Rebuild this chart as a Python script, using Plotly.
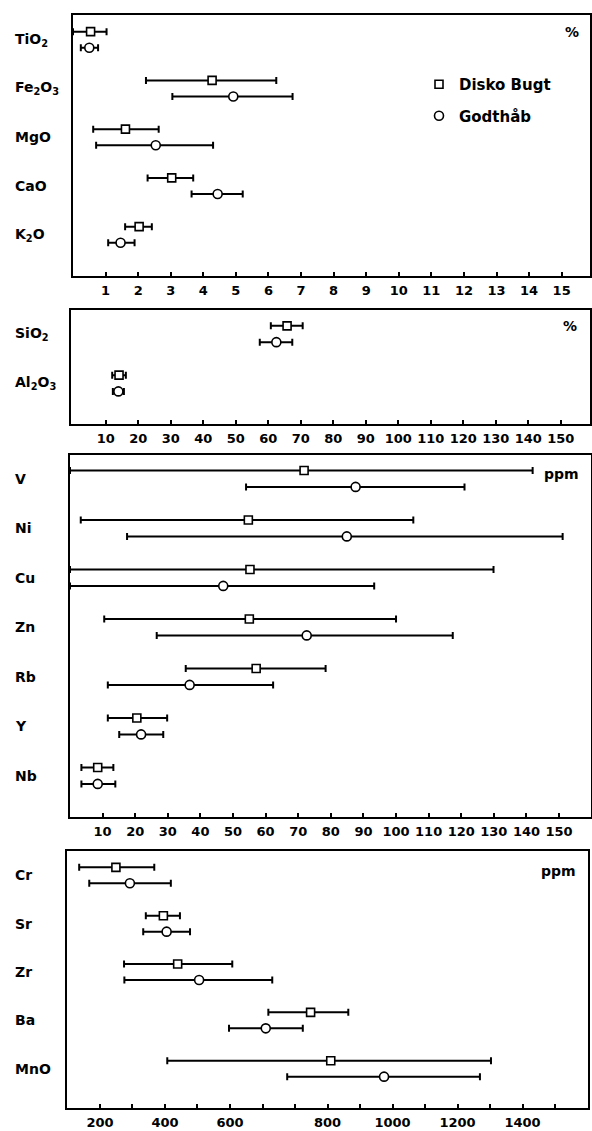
import plotly.graph_objects as go

# ---------------- data ----------------
# Panel 1 (%)
p1_labels = ["TiO<sub>2</sub>", "Fe<sub>2</sub>O<sub>3</sub>", "MgO", "CaO", "K<sub>2</sub>O"]
p1_disko_mean = [0.54, 4.27, 1.61, 3.03, 2.03]
p1_disko_low = [0.00, 2.24, 0.62, 2.29, 1.60]
p1_disko_high = [1.03, 6.24, 2.63, 3.69, 2.42]
p1_godt_mean = [0.50, 4.92, 2.54, 4.44, 1.46]
p1_godt_low = [0.24, 3.05, 0.71, 3.64, 1.08]
p1_godt_high = [0.77, 6.74, 4.30, 5.21, 1.89]

# Panel 2 (%)
p2_labels = ["SiO<sub>2</sub>", "Al<sub>2</sub>O<sub>3</sub>"]
p2_disko_mean = [65.8, 14.1]
p2_disko_low = [60.8, 12.0]
p2_disko_high = [70.6, 16.2]
p2_godt_mean = [62.5, 13.9]
p2_godt_low = [57.4, 12.2]
p2_godt_high = [67.4, 15.6]

# Panel 3 (ppm)
p3_labels = ["V", "Ni", "Cu", "Zn", "Rb", "Y", "Nb"]
p3_disko_mean = [71.8, 54.7, 55.2, 55.0, 57.1, 20.5, 8.5]
p3_disko_low = [0.0, 3.3, 0.0, 10.5, 35.5, 11.6, 3.5]
p3_disko_high = [141.9, 105.3, 129.9, 100.0, 78.4, 29.8, 13.3]
p3_godt_mean = [87.6, 84.9, 47.0, 72.6, 36.7, 21.8, 8.5]
p3_godt_low = [54.0, 17.5, 0.0, 26.6, 11.6, 15.1, 3.5]
p3_godt_high = [121.0, 151.1, 93.3, 117.4, 62.3, 28.6, 13.9]

# Panel 4 (ppm)
p4_labels = ["Cr", "Sr", "Zr", "Ba", "MnO"]
p4_disko_mean = [149, 295, 339, 748, 810]
p4_disko_low = [36, 241, 174, 618, 307]
p4_disko_high = [267, 346, 507, 864, 1303]
p4_godt_mean = [192, 305, 405, 610, 974]
p4_godt_low = [67, 233, 175, 497, 676]
p4_godt_high = [318, 377, 630, 724, 1269]

# tick labels (panel 4 labels sit on the ticks exactly as printed in the original)
p1_ticks = list(range(1, 16))
p23_ticks = list(range(10, 151, 10))
p4_tickvals = list(range(100, 1501, 100))
p4_ticktext = ["200", " ", "400", " ", "600", " ", " ", "800", " ", "1000", " ", "1200", " ", "1400", " "]

series_names = ["Disko Bugt", "Godthåb"]
units = ["%", "%", "ppm", "ppm"]

# ---------------- layout geometry ----------------
W, H = 592, 1131
FAM = "DejaVu Sans, Liberation Sans, Arial, sans-serif"
LABEL_FONT = dict(family=FAM, size=14, color="black", weight="bold")
TICK_FONT = dict(family=FAM, size=13, color="black", weight="bold")
LEGEND_FONT = dict(family=FAM, size=15, color="black", weight="bold")

panels = [
    dict(labels=p1_labels,
         d=(p1_disko_mean, p1_disko_low, p1_disko_high),
         g=(p1_godt_mean, p1_godt_low, p1_godt_high),
         xpx=(73, 590), ypx=(15, 276), xrange=[0, 15.87], yrange=[4.847, -0.507],
         tickvals=p1_ticks, ticktext=[str(t) for t in p1_ticks],
         unit_pos=(572, 32)),
    dict(labels=p2_labels,
         d=(p2_disko_mean, p2_disko_low, p2_disko_high),
         g=(p2_godt_mean, p2_godt_low, p2_godt_high),
         xpx=(71, 590), ypx=(310, 424), xrange=[-0.68, 159.0], yrange=[1.826, -0.487],
         tickvals=p23_ticks, ticktext=[str(t) for t in p23_ticks],
         unit_pos=(570, 326)),
    dict(labels=p3_labels,
         d=(p3_disko_mean, p3_disko_low, p3_disko_high),
         g=(p3_godt_mean, p3_godt_low, p3_godt_high),
         xpx=(70, 591), ypx=(455, 817), xrange=[0, 159.8], yrange=[6.834, -0.479],
         tickvals=p23_ticks, ticktext=[str(t) for t in p23_ticks],
         unit_pos=(561, 474)),
    dict(labels=p4_labels,
         d=(p4_disko_mean, p4_disko_low, p4_disko_high),
         g=(p4_godt_mean, p4_godt_low, p4_godt_high),
         xpx=(67, 588), ypx=(851, 1108), xrange=[-1.5, 1601.5], yrange=[4.813, -0.503],
         tickvals=p4_tickvals, ticktext=p4_ticktext,
         unit_pos=(558, 871)),
]

OFFSET = 0.165
fig = go.Figure()
annotations = []
layout = {}

for k, p in enumerate(panels, start=1):
    xa = "x" if k == 1 else f"x{k}"
    ya = "y" if k == 1 else f"y{k}"
    n = len(p["labels"])
    idx = list(range(n))
    for s, (key, sym, size, off) in enumerate([("d", "square", 8, -OFFSET), ("g", "circle", 9, OFFSET)]):
        mean, low, high = p[key]
        fig.add_trace(go.Scatter(
            x=mean, y=[i + off for i in idx], xaxis=xa, yaxis=ya,
            mode="markers",
            name=series_names[s], legendgroup=series_names[s], showlegend=(k == 1),
            marker=dict(symbol=sym, size=size, color="white", line=dict(color="black", width=1.6)),
            error_x=dict(type="data", symmetric=False,
                         array=[h - m for m, h in zip(mean, high)],
                         arrayminus=[m - l for m, l in zip(mean, low)],
                         color="black", thickness=2, width=3.5),
            cliponaxis=False,
        ))
    x0, x1 = p["xpx"]
    y0, y1 = p["ypx"]
    layout["xaxis" if k == 1 else f"xaxis{k}"] = dict(
        domain=[x0 / W, x1 / W], anchor=ya, range=p["xrange"],
        showline=True, mirror=True, linecolor="black", linewidth=1.6,
        ticks="inside", ticklen=4, tickwidth=1.5, tickcolor="black",
        tickmode="array", tickvals=p["tickvals"], ticktext=p["ticktext"], tickfont=TICK_FONT,
        ticklabelstandoff=2,
        showgrid=False, zeroline=False, fixedrange=True,
    )
    layout["yaxis" if k == 1 else f"yaxis{k}"] = dict(
        domain=[1 - y1 / H, 1 - y0 / H], anchor=xa, range=p["yrange"],
        showline=True, mirror=True, linecolor="black", linewidth=1.6,
        showticklabels=False, ticks="", showgrid=False, zeroline=False, fixedrange=True,
    )
    for i, lab in enumerate(p["labels"]):
        annotations.append(dict(text=lab, x=13 / W, xref="paper", y=i, yref=ya,
                                xanchor="left", yanchor="middle", showarrow=False, font=LABEL_FONT))
    ux, uy = p["unit_pos"]
    annotations.append(dict(text=units[k - 1], x=ux / W, xref="paper", y=1 - uy / H, yref="paper",
                            xanchor="center", yanchor="middle", showarrow=False, font=LABEL_FONT))

fig.update_layout(
    width=W, height=H,
    margin=dict(l=0, r=0, t=0, b=0),
    paper_bgcolor="white", plot_bgcolor="white",
    font=LABEL_FONT,
    showlegend=True,
    legend=dict(x=419 / W, y=1 - 68 / H, xanchor="left", yanchor="top",
                bgcolor="rgba(0,0,0,0)", font=LEGEND_FONT, traceorder="grouped",
                tracegroupgap=9),
    annotations=annotations,
    **layout,
)

fig.write_html(
    "out.html",
    config={"displayModeBar": False},
    post_script="document.body.style.margin='0px'; document.body.style.overflow='hidden';",
)
